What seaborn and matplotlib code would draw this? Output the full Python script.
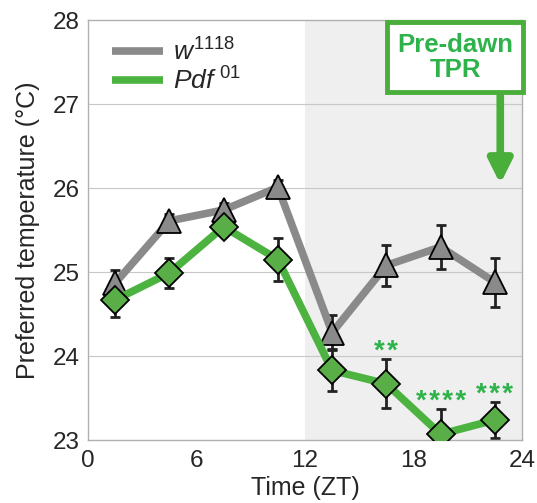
import numpy as np
import pandas as pd
import matplotlib.pyplot as plt
import matplotlib.patches as mpatches
import seaborn as sns

# Data
zt = [1.5, 4.5, 7.5, 10.5, 13.5, 16.5, 19.5, 22.5]
w1118_mean = [24.87, 25.61, 25.74, 26.01, 24.28, 25.08, 25.30, 24.88]
w1118_sem = [0.15, 0.08, 0.08, 0.09, 0.21, 0.24, 0.26, 0.29]
pdf01_mean = [24.67, 24.99, 25.54, 25.15, 23.83, 23.67, 23.07, 23.24]
pdf01_sem = [0.20, 0.18, 0.08, 0.26, 0.25, 0.29, 0.30, 0.21]
stars = ['', '', '', '', '', '**', '****', '***']

GRAY = '#8a8a8a'
GREEN = '#4db340'
TEXT_GREEN = '#2eb34a'
BOX_GREEN = '#4aae3a'

sns.set_style("white")
plt.rcParams['font.family'] = ['Liberation Sans', 'DejaVu Sans']
plt.rcParams['mathtext.fontset'] = 'custom'
plt.rcParams['mathtext.rm'] = 'Liberation Sans'
plt.rcParams['mathtext.it'] = 'Liberation Sans:italic'

df = pd.DataFrame({
    'zt': zt * 2,
    'temp': w1118_mean + pdf01_mean,
    'genotype': ['w1118'] * len(zt) + ['Pdf01'] * len(zt),
})

fig = plt.figure(figsize=(5.37, 5.03), dpi=100)
ax = fig.add_axes([0.164, 0.125, 0.808, 0.835])

# dark phase shading
ax.axvspan(12, 24, color='#efefef', zorder=0, lw=0)
for yv in [24, 25, 26, 27]:
    ax.axhline(yv, color='#c8c8c8', lw=0.8, zorder=0.5)

# error bars
ax.errorbar(zt, w1118_mean, yerr=w1118_sem, fmt='none', ecolor='#222222',
            elinewidth=2, capsize=3.5, capthick=2, zorder=2)
ax.errorbar(zt, pdf01_mean, yerr=pdf01_sem, fmt='none', ecolor='#222222',
            elinewidth=2, capsize=3.5, capthick=2, zorder=2)

sns.lineplot(data=df[df.genotype == 'w1118'], x='zt', y='temp', ax=ax,
             color=GRAY, lw=5.5, marker='^', markersize=17,
             markerfacecolor=GRAY, markeredgecolor='black', markeredgewidth=1.3,
             zorder=3, label=r'$\mathit{w}^{\mathit{1118}}$')
sns.lineplot(data=df[df.genotype == 'Pdf01'], x='zt', y='temp', ax=ax,
             color=GREEN, lw=5.5, marker='D', markersize=14,
             markerfacecolor='#5aae48', markeredgecolor='black', markeredgewidth=1.3,
             zorder=4, label=r'$\mathit{Pdf}^{\ \mathit{01}}$')

# significance stars (spaced out like the original)
for x, m, e, s in zip(zt, pdf01_mean, pdf01_sem, stars):
    if s:
        ax.text(x, m + e - 0.07, '\u200a'.join(s), color=TEXT_GREEN, fontsize=20,
                fontweight='bold', ha='center', va='bottom')

ax.set_xlim(0, 24)
ax.set_ylim(23, 28)
ax.set_xticks([0, 6, 12, 18, 24])
ax.set_xticks([3, 9, 15, 21], minor=True)
ax.set_yticks([23, 24, 25, 26, 27, 28])
ax.tick_params(axis='both', which='both', direction='out', color='#aaaaaa',
               labelsize=17.5, length=4, width=1, pad=2)
ax.tick_params(axis='x', which='major', pad=3)
for sp in ax.spines.values():
    sp.set_color('#b0b0b0')
    sp.set_linewidth(1)
ax.set_xlabel('Time (ZT)', fontsize=18, labelpad=3)
ax.set_ylabel('Preferred temperature (\u00b0C)', fontsize=18, labelpad=9)

leg = ax.legend(loc='upper left', bbox_to_anchor=(0.0, 1.013), frameon=False,
                fontsize=19, handlelength=1.95, handletextpad=0.35,
                labelspacing=0.05)
for h in leg.get_lines():
    h.set_marker('')
    h.set_linewidth(5.5)
    h.set_solid_capstyle('butt')

# Pre-dawn TPR annotation
ax.add_patch(mpatches.Rectangle((16.55, 27.15), 7.5, 0.83, fc='white',
                                ec=BOX_GREEN, lw=3.5, zorder=6, clip_on=False))
ax.text(20.3, 27.56, 'Pre-dawn\nTPR', color=TEXT_GREEN, fontsize=18.5,
        fontweight='bold', ha='center', va='center', linespacing=1.05,
        zorder=7)
ax.annotate('', xy=(22.8, 26.05), xytext=(22.8, 27.15),
            arrowprops=dict(arrowstyle='-|>,head_width=0.7,head_length=1.4',
                            color=BOX_GREEN, lw=5.5, shrinkA=0, shrinkB=0),
            zorder=5)

fig.savefig('out.png', dpi=100)
